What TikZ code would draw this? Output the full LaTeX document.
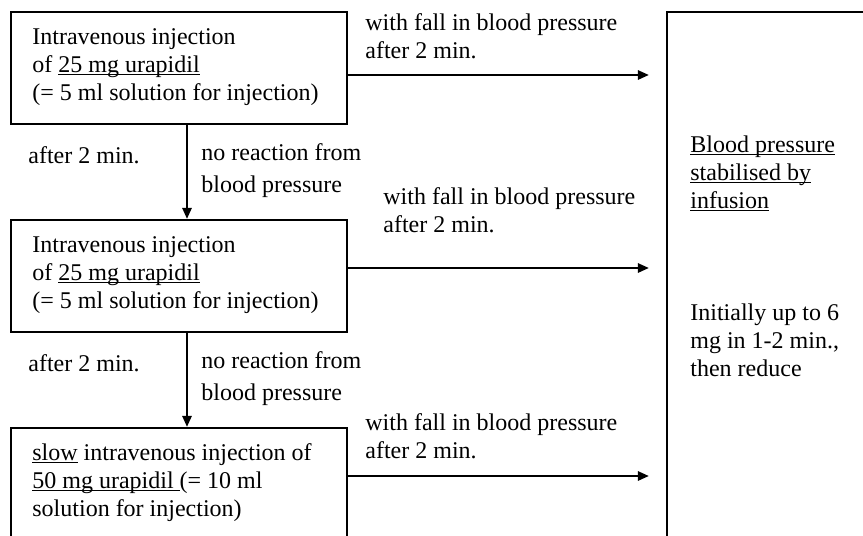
\documentclass[tikz,border=0pt]{standalone}
\usepackage{fontspec}
\setmainfont{Liberation Serif}
\usetikzlibrary{arrows.meta}
\newsavebox\myulbox
\newcommand\myul[1]{\sbox\myulbox{#1}\rlap{\rule[-1.6pt]{\wd\myulbox}{0.55pt}}\usebox\myulbox}
\newcommand\mylines[2]{\vtop{\baselineskip=#1\lineskiplimit=-\maxdimen #2}}
\tikzset{
  boxnode/.style={draw, line width=1.1pt, rectangle, inner sep=0pt},
  txt/.style={anchor=base west, inner sep=0pt, font=\fontsize{12pt}{14pt}\selectfont},
  arr/.style={line width=1.1pt, -{Triangle[length=5.5pt,width=4.6pt]}}
}
\begin{document}
\begin{tikzpicture}[x=0.5pt,y=-0.5pt]
\useasboundingbox (0,0) rectangle (863,536);
% boxes
\node[boxnode, minimum width=168pt, minimum height=56pt] (b1) at (179,68) {};
\node[boxnode, minimum width=168pt, minimum height=56pt] (b2) at (179,276) {};
\node[boxnode, minimum width=168pt, minimum height=66pt] (b3) at (179,494) {};
\node[boxnode, minimum width=111.5pt, minimum height=274pt] (rb) at (778.5,286) {};
% box texts
\node[txt] (t1) at (32,44) {\mylines{14pt}{\hbox{Intravenous injection}\hbox{of \myul{25 mg urapidil}}\hbox{(= 5 ml solution for injection)}}};
\node[txt] (t2) at (32,252) {\mylines{14pt}{\hbox{Intravenous injection}\hbox{of \myul{25 mg urapidil}}\hbox{(= 5 ml solution for injection)}}};
\node[txt] (t3) at (32,460) {\mylines{14pt}{\hbox{\myul{slow} intravenous injection of}\hbox{\myul{50 mg urapidil\ }(= 10 ml}\hbox{solution for injection)}}};
\node[txt] (r1) at (690,152) {\mylines{14pt}{\hbox{\myul{Blood pressure}}\hbox{\myul{stabilised by}}\hbox{\myul{infusion}}}};
\node[txt] (r2) at (690,320) {\mylines{14pt}{\hbox{Initially up to 6}\hbox{mg in 1-2 min.,}\hbox{then reduce}}};
% arrows to the right
\draw[arr, shorten >=8.5pt] (b1.east |- 0,75) -- (rb.west |- 0,75);
\draw[arr, shorten >=8.5pt] (b2.east |- 0,268) -- (rb.west |- 0,268);
\draw[arr, shorten >=8.5pt] (b3.east |- 0,476) -- (rb.west |- 0,476);
% arrows down
\draw[arr] (b1.south -| 187,0) -- (b2.north -| 187,0);
\draw[arr] (b2.south -| 187,0) -- (b3.north -| 187,0);
% labels
\node[txt] (l1) at (365,30) {\mylines{14pt}{\hbox{with fall in blood pressure}\hbox{after 2 min.}}};
\node[txt] (l2) at (383,204) {\mylines{14pt}{\hbox{with fall in blood pressure}\hbox{after 2 min.}}};
\node[txt] (l3) at (365,430) {\mylines{14pt}{\hbox{with fall in blood pressure}\hbox{after 2 min.}}};
\node[txt] (a1) at (28,163) {after 2 min.};
\node[txt] (a2) at (28,371) {after 2 min.};
\node[txt] (n1) at (201,160) {\mylines{16pt}{\hbox{no reaction from}\hbox{blood pressure}}};
\node[txt] (n2) at (201,368) {\mylines{16pt}{\hbox{no reaction from}\hbox{blood pressure}}};
\end{tikzpicture}
\end{document}
